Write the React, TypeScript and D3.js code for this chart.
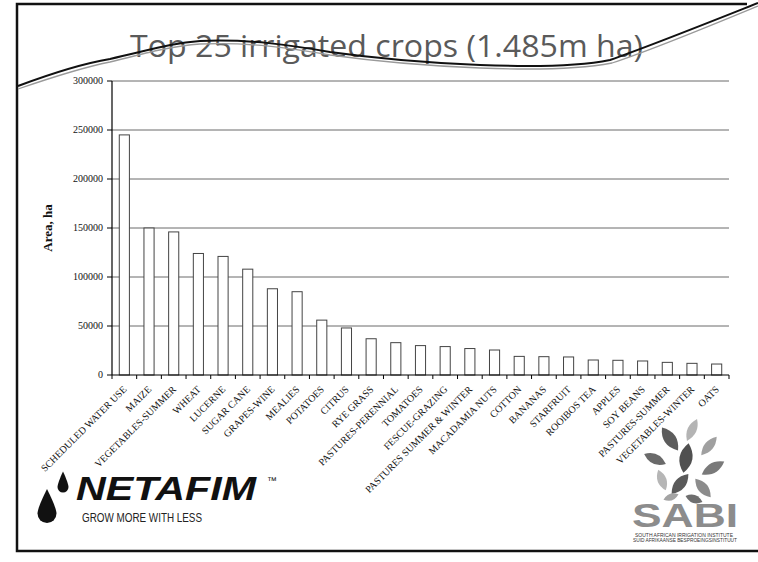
import * as d3 from "d3";
import React from "react";

// top 25 irrigated crops, area in ha
const crops = [
  "SCHEDULED WATER USE",
  "MAIZE",
  "VEGETABLES-SUMMER",
  "WHEAT",
  "LUCERNE",
  "SUGAR CANE",
  "GRAPES-WINE",
  "MEALIES",
  "POTATOES",
  "CITRUS",
  "RYE GRASS",
  "PASTURES-PERENNIAL",
  "TOMATOES",
  "FESCUE-GRAZING",
  "PASTURES SUMMER & WINTER",
  "MACADAMIA NUTS",
  "COTTON",
  "BANANAS",
  "STARFRUIT",
  "ROOIBOS TEA",
  "APPLES",
  "SOY BEANS",
  "PASTURES-SUMMER",
  "VEGETABLES-WINTER",
  "OATS",
];
const areas = [
  245000, 150000, 146000, 124000, 121000, 108000, 88000, 85000, 56000, 48000,
  37000, 33000, 30000, 29000, 27000, 25500, 19000, 18700, 18400, 15300, 15000,
  14300, 12900, 11900, 11200,
];
const yTicks = [0, 50000, 100000, 150000, 200000, 250000, 300000];

const W = 758;
const H = 562;
const left = 112;
const right = 729;
const top = 81;
const bottom = 375;

const serif = "'Liberation Serif', 'DejaVu Serif', serif";
const sans = "'Liberation Sans', Arial, sans-serif";

// teardrop with the tip at the top
const dropPath = (cx: number, cy: number, w: number, h: number) => {
  const r = w / 2;
  const bulbY = cy + h / 2 - r;
  return `M${cx},${cy - h / 2} C${cx + r * 0.6},${cy - h / 6} ${cx + r},${bulbY - r * 0.4} ${cx + r},${bulbY} A${r},${r} 0 1 1 ${cx - r},${bulbY} C${cx - r},${bulbY - r * 0.4} ${cx - r * 0.6},${cy - h / 6} ${cx},${cy - h / 2}Z`;
};
const leafPath = (len: number, wid: number) =>
  `M0,${-len / 2} Q${wid},0 0,${len / 2} Q${-wid},0 0,${-len / 2}Z`;

// leaves of the SABI mark: [x, y, len, wid, angle, fill]
const sabiLeaves: [number, number, number, number, number, string][] = [
  [692, 430, 24, 9, 25, "#b4b4b4"],
  [670, 439, 28, 12, -35, "#5c5c5c"],
  [709, 446, 24, 9, 40, "#a0a0a0"],
  [655, 459, 24, 10, -65, "#6a6a6a"],
  [686, 458, 30, 13, 10, "#505050"],
  [713, 468, 26, 10, 60, "#7a7a7a"],
  [662, 480, 22, 9, -20, "#b6b6b6"],
  [680, 484, 26, 11, 40, "#5a5a5a"],
  [703, 488, 24, 10, -40, "#8c8c8c"],
  [671, 497, 16, 7, 70, "#a4a4a4"],
  [694, 499, 18, 8, -70, "#6e6e6e"],
];

export default function App() {
  const x = d3.scaleBand<string>().domain(crops).range([left, right]).padding(0);
  const y = d3.scaleLinear().domain([0, 300000]).range([bottom, top]);
  const barW = x.bandwidth() * 0.41;

  return (
    <svg
      width={W}
      height={H}
      style={{ position: "absolute", left: 0, top: 0, background: "#fff" }}
    >
      {/* slide frame */}
      <path d={`M747,4 L17,4 L17,551 L${W},551`} fill="none" stroke="#111" strokeWidth={2.5} />

      {/* title */}
      <text
        x={130}
        y={57}
        fontFamily="'Open Sans', Lato, sans-serif"
        fontSize={31}
        fill="#5a5a5a"
        textLength={513}
        lengthAdjust="spacingAndGlyphs"
      >
        Top 25 irrigated crops (1.485m ha)
      </text>
      {/* swoosh */}
      <path
        d="M18,89 C50,78 80,68 110,62 C150,52 172,46 200,44 C250,42 290,48 330,55 C380,62 430,66 480,68 C530,70 580,69 612,63 C652,50 700,30 758,6"
        fill="none"
        stroke="#9a9a9a"
        strokeWidth={1.3}
      />
      <path
        d="M18,86 C50,74 80,64 110,59 C150,50 172,43 200,41 C250,39 290,45 330,52 C380,59 430,63 480,65 C530,67 580,66 610,60 C650,46 700,26 758,3"
        fill="none"
        stroke="#111"
        strokeWidth={2}
      />

      {/* gridlines */}
      {yTicks
        .filter((t) => t > 0)
        .map((t) => (
          <line key={t} x1={left} x2={right} y1={y(t)} y2={y(t)} stroke="#6b6b6b" strokeWidth={1} />
        ))}

      {/* bars */}
      {crops.map((c, i) => (
        <rect
          key={c}
          x={x(c)! + x.bandwidth() / 2 - barW / 2}
          y={y(areas[i])}
          width={barW}
          height={bottom - y(areas[i])}
          fill="#fff"
          stroke="#444"
          strokeWidth={1}
        />
      ))}

      {/* y axis */}
      <line x1={left} x2={left} y1={top} y2={bottom} stroke="#000" strokeWidth={1.2} />
      {yTicks.map((t) => (
        <g key={t}>
          <line x1={left - 5} x2={left} y1={y(t)} y2={y(t)} stroke="#000" />
          <text
            x={left - 9}
            y={y(t)}
            dy="0.32em"
            textAnchor="end"
            fontFamily={serif}
            fontSize={10}
            fill="#111"
          >
            {t}
          </text>
        </g>
      ))}
      <text
        transform={`translate(52,${(top + bottom) / 2}) rotate(-90)`}
        textAnchor="middle"
        fontFamily={serif}
        fontWeight="bold"
        fontSize={13}
        fill="#111"
      >
        Area, ha
      </text>

      {/* x axis */}
      <line x1={left} x2={right} y1={bottom} y2={bottom} stroke="#000" strokeWidth={1.2} />
      {crops.map((c) => (
        <line key={c} x1={x(c)!} x2={x(c)!} y1={bottom} y2={bottom + 4} stroke="#000" />
      ))}
      <line x1={right} x2={right} y1={bottom} y2={bottom + 4} stroke="#000" />
      {crops.map((c) => {
        const cx = x(c)! + x.bandwidth() / 2 + 3;
        return (
          <text
            key={c}
            transform={`translate(${cx},${bottom + 15}) rotate(-45)`}
            textAnchor="end"
            fontFamily={serif}
            fontSize={10}
            fill="#111"
          >
            {c}
          </text>
        );
      })}

      {/* NETAFIM logo */}
      <path d={dropPath(47, 506, 19, 34)} fill="#111" />
      <path d={dropPath(63, 482, 11, 21)} fill="#111" />
      <text
        x={76}
        y={500}
        fontFamily={sans}
        fontWeight="900"
        fontStyle="italic"
        fontSize={34}
        fill="#111"
        textLength={180}
        lengthAdjust="spacingAndGlyphs"
      >
        NETAFIM
      </text>
      <text x={267} y={484} fontFamily={sans} fontSize={10} fill="#111">
        ™
      </text>
      <text
        x={82}
        y={522}
        fontFamily={sans}
        fontSize={12}
        fill="#222"
        textLength={120}
        lengthAdjust="spacingAndGlyphs"
      >
        GROW MORE WITH LESS
      </text>

      {/* SABI logo */}
      {sabiLeaves.map(([lx, ly, len, wid, ang, fill], i) => (
        <path key={i} d={leafPath(len, wid)} transform={`translate(${lx},${ly}) rotate(${ang})`} fill={fill} />
      ))}
      <text
        x={632}
        y={527}
        fontFamily={sans}
        fontWeight="bold"
        fontSize={33}
        fill="#8c8c8c"
        textLength={106}
        lengthAdjust="spacingAndGlyphs"
      >
        SABI
      </text>
      <text x={635} y={537} fontFamily={sans} fontSize={4.5} fill="#333" textLength={98} lengthAdjust="spacingAndGlyphs">
        SOUTH AFRICAN IRRIGATION INSTITUTE
      </text>
      <text x={633} y={542} fontFamily={sans} fontSize={4.5} fill="#333" textLength={104} lengthAdjust="spacingAndGlyphs">
        SUID AFRIKAANSE BESPROEINGSINSTITUUT
      </text>
    </svg>
  );
}
